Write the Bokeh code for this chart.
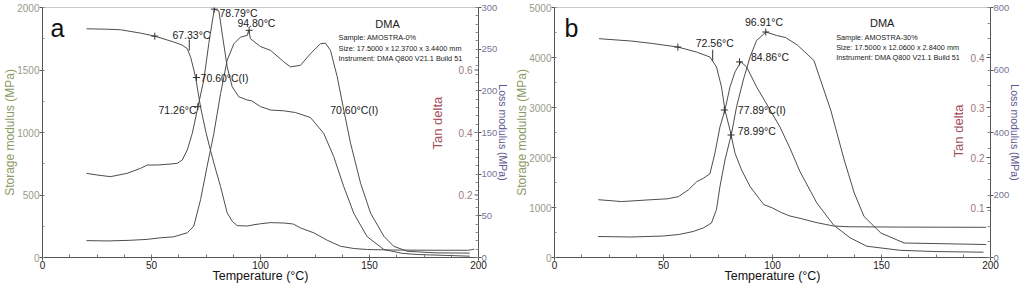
import math
from bokeh.plotting import figure
from bokeh.models import Range1d, LinearAxis, Label, SingleIntervalTicker
from bokeh.layouts import row
from bokeh.embed import file_html
from bokeh.resources import INLINE

FONT = "Liberation Sans"
CURVE = "#4d4d4d"

# ---------------- panel a data (AMOSTRA-0%) ----------------
a_T_storage = [20.2, 30, 35.8, 45, 51.5, 60.2, 64, 66.4, 68, 70.2, 72.5, 75, 77, 79.5, 81.7, 84.7, 87,
               89.3, 93.9, 97, 100, 104.6, 110.7, 115, 118.3, 124.5, 130.6, 136.7, 142.8, 149, 160, 180,
               195, 197, 198]
a_storage = [1830, 1826, 1822, 1795, 1771, 1724, 1700, 1671, 1600, 1445, 1203, 1000, 860, 700, 566, 358,
             290, 255, 252, 262, 270, 279, 276, 268, 237, 197, 138, 90, 72, 64, 60, 58, 58, 62, 68]

a_T_loss = [20.2, 25, 31.2, 38.8, 45, 48, 52.6, 58, 61.8, 64.1, 66.4, 68.7, 71, 74, 76.3, 78.8, 80.9,
            82.4, 84.7, 87, 90, 93.9, 96, 100, 104.6, 110.7, 116, 122.9, 129, 133.6, 138.2, 142.8,
            148.9, 156.6, 165, 171.9, 185, 196]
a_loss = [101, 99, 97, 101, 107, 111, 111, 112, 113, 117, 129, 149, 177, 213, 257, 298, 296, 269, 229,
          205, 193, 189, 188, 181, 177, 176, 174, 168, 149, 121, 85, 53, 25, 9.6, 5, 3.6, 2.5, 1.6]

a_T_tan = [20.2, 30, 40, 48, 54, 60, 66.4, 69.4, 72.5, 75.5, 78.6, 81.7, 84.7, 87.8, 90.8, 93.9, 94.6,
           95.4, 100, 104.6, 110.7, 113.8, 118.3, 122.9, 127.5, 129.8, 132.1, 135.2, 138.2, 141.3,
           145.9, 150.5, 156.6, 161.1, 167.3, 180, 196]
a_tan = [0.054, 0.053, 0.055, 0.058, 0.063, 0.066, 0.079, 0.1, 0.185, 0.291, 0.397, 0.525, 0.631, 0.684,
         0.705, 0.711, 0.727, 0.70, 0.675, 0.663, 0.626, 0.61, 0.615, 0.652, 0.684, 0.686, 0.663, 0.578,
         0.472, 0.366, 0.238, 0.142, 0.068, 0.036, 0.02, 0.015, 0.014]

a_mark_storage_T = [51.5, 70.6]
a_mark_storage = [1771, 1440]
a_onset_T = [67.33]
a_onset_storage = [1700]
a_mark_loss_T = [71.26, 78.79]
a_mark_loss = [181, 298]
a_mark_tan_T = [94.8]
a_mark_tan = [0.727]

a_info = ["Sample: AMOSTRA-0%", "Size: 17.5000 x 12.3700 x 3.4400 mm", "Instrument: DMA Q800 V21.1 Build 51"]

# ---------------- panel b data (AMOSTRA-30%) ----------------
b_T_storage = [20.4, 35.4, 45, 56.6, 65.1, 71.3, 74.3, 76.6, 78.2, 80.5, 82.8, 85.8, 89.7, 94.3, 96,
               100, 104, 108, 113, 120, 128, 135, 160, 198]
b_storage = [4376, 4329, 4280, 4209, 4110, 4010, 3811, 3412, 2948, 2550, 2086, 1753, 1420, 1155, 1060,
             990, 900, 830, 780, 700, 630, 615, 608, 604]

b_T_loss = [20.1, 30.8, 44.6, 52, 56.9, 61.5, 65.3, 68.4, 71.3, 73.6, 75.9, 78.2, 80.5, 82.8, 85.5, 88.1,
            92.7, 98.9, 103.4, 108, 112.6, 120.3, 128, 135.6, 143.3, 158.6, 175, 196.8]
b_loss = [185, 179, 185, 188, 195, 217, 243, 254, 268, 334, 418, 472, 546, 594, 626, 610, 546, 472, 418,
          350, 275, 175, 104, 63, 36, 23, 19, 17]

b_T_tan = [20, 35, 50, 57, 63.6, 68.2, 72, 74.3, 75.9, 78.2, 81.2, 83.5, 86.6, 89.7, 92.7, 97, 101.9,
           106, 111.4, 119, 126.7, 132.9, 137.5, 142, 149.7, 160.4, 198]
b_tan = [0.042, 0.041, 0.043, 0.046, 0.052, 0.059, 0.069, 0.096, 0.142, 0.195, 0.248, 0.301, 0.355,
         0.401, 0.434, 0.451, 0.444, 0.44, 0.425, 0.394, 0.295, 0.195, 0.129, 0.082, 0.049, 0.029, 0.026]

b_mark_storage_T = [56.6, 77.89]
b_mark_storage = [4209, 2950]
b_onset_T = [72.56]
b_onset_storage = [4044]
b_mark_loss_T = [84.86]
b_mark_loss = [626]
b_mark_tan_T = [81.0, 96.91]
b_mark_tan = [0.245, 0.451]

b_info = ["Sample: AMOSTRA-30%", "Size: 17.5000 x 12.0600 x 2.8400 mm", "Instrument: DMA Q800 V21.1 Build 51"]

x_ticks_interval = 50


def build(width, letter, letter_pos,
          smax, s_int, s_minor, lmax, l_int, l_minor, tmax, tan_ticks,
          Ts, S, Tl, L, Tt, Tn,
          msT, ms, oT, oS, mlT, ml, mtT, mt,
          peak_labels, dma_pos, info_pos, info, tan_title_y, tan_title_off):
    p = figure(width=width, height=285, x_range=Range1d(0, 200), y_range=Range1d(0, smax),
               output_backend="svg", toolbar_location=None,
               min_border_left=20, min_border_right=20,
               min_border_top=7, min_border_bottom=14)
    p.extra_y_ranges = {"loss": Range1d(0, lmax), "tan": Range1d(0, tmax)}
    p.grid.visible = False
    p.outline_line_color = "#c8c8c8"
    p.outline_line_width = 1

    # bottom axis
    xa = p.xaxis[0]
    xa.ticker = SingleIntervalTicker(interval=x_ticks_interval, num_minor_ticks=4)
    xa.axis_label = "Temperature (°C)"
    xa.axis_label_text_font = FONT
    xa.axis_label_text_font_size = "12.5px"
    xa.axis_label_text_font_style = "normal"
    xa.axis_label_text_color = "#111111"
    xa.axis_label_standoff = -3
    xa.major_label_text_font = FONT
    xa.major_label_text_font_size = "10px"
    xa.major_label_text_color = "#222222"
    xa.major_label_standoff = 0
    xa.major_tick_out = 3
    xa.major_tick_in = 0
    xa.minor_tick_out = 0
    xa.minor_tick_in = 3
    xa.axis_line_color = "#555555"
    xa.major_tick_line_color = "#555555"
    xa.minor_tick_line_color = "#777777"

    # left axis (storage)
    ya = p.yaxis[0]
    ya.ticker = SingleIntervalTicker(interval=s_int, num_minor_ticks=s_minor)
    ya.axis_label = "Storage modulus (MPa)"
    ya.axis_label_text_font = FONT
    ya.axis_label_text_font_size = "12px"
    ya.axis_label_text_font_style = "normal"
    ya.axis_label_text_color = "#8a9a63"
    ya.axis_label_standoff = -3
    ya.major_label_text_font = FONT
    ya.major_label_text_font_size = "10px"
    ya.major_label_text_color = "#9a9a8a"
    ya.major_label_standoff = 0
    ya.major_tick_out = 3
    ya.major_tick_in = 0
    ya.minor_tick_out = 0
    ya.minor_tick_in = 2
    ya.axis_line_color = "#555555"
    ya.major_tick_line_color = "#555555"
    ya.minor_tick_line_color = "#888888"

    # right axis (loss modulus)
    la = LinearAxis(y_range_name="loss", axis_label="Loss modulus (MPa)",
                    ticker=SingleIntervalTicker(interval=l_int, num_minor_ticks=l_minor))
    la.axis_label_text_font = FONT
    la.axis_label_text_font_size = "10.5px"
    la.axis_label_text_font_style = "normal"
    la.axis_label_text_color = "#5e5890"
    la.axis_label_standoff = -3
    la.major_label_text_font = FONT
    la.major_label_text_font_size = "9.5px"
    la.major_label_text_color = "#76769a"
    la.major_label_standoff = 0
    la.major_tick_out = 3
    la.major_tick_in = 0
    la.minor_tick_out = 0
    la.minor_tick_in = 3
    la.axis_line_color = "#555555"
    la.major_tick_line_color = "#555555"
    la.minor_tick_line_color = "#888888"
    p.add_layout(la, "right")

    # curves
    p.line(Ts, S, line_color=CURVE, line_width=1)
    p.line(Tl, L, line_color=CURVE, line_width=1, y_range_name="loss")
    p.line(Tt, Tn, line_color=CURVE, line_width=1, y_range_name="tan")

    # analysis markers
    p.scatter(msT, ms, marker="cross", size=7, line_color="#333333")
    p.scatter(oT, oS, marker="dash", angle=math.pi / 2, size=11, line_color="#333333")
    p.scatter(mlT, ml, marker="cross", size=7, line_color="#333333", y_range_name="loss")
    p.scatter(mtT, mt, marker="cross", size=7, line_color="#333333", y_range_name="tan")

    # tan delta inner scale (labels inside the frame next to the right axis)
    tick_x0 = [198.2] * len(tan_ticks)
    tick_x1 = [200] * len(tan_ticks)
    p.segment(tick_x0, tan_ticks, tick_x1, tan_ticks, line_color="#555555", y_range_name="tan")
    for t in tan_ticks:
        p.add_layout(Label(x=200, y=t, y_range_name="tan", text=f"{t:g}", x_offset=-6,
                           text_align="right", text_baseline="middle", text_font=FONT,
                           text_font_size="10px", text_color="#a07878"))
    p.add_layout(Label(x=200, y=tan_title_y, y_range_name="tan", text="Tan delta", x_offset=-tan_title_off,
                       angle=math.pi / 2, text_align="center", text_baseline="middle",
                       text_font=FONT, text_font_size="13px", text_color="#a2505c"))

    # panel letter
    p.add_layout(Label(x=letter_pos[0], y=letter_pos[1], text=letter, text_font=FONT,
                       text_font_size="25px", text_color="#111111", text_baseline="alphabetic"))

    # peak / transition labels
    for (tx, ty, txt) in peak_labels:
        p.add_layout(Label(x=tx, y=ty, text=txt, text_font=FONT, text_font_size="10.5px",
                           text_color="#1a1a1a", text_align="left", text_baseline="middle"))

    # header block
    p.add_layout(Label(x=dma_pos[0], y=dma_pos[1], text="DMA", text_font=FONT, text_font_size="11px",
                       text_color="#1a1a1a", text_align="center", text_baseline="middle"))
    for i, line in enumerate(info):
        p.add_layout(Label(x=info_pos[0], y=info_pos[1][i], text=line, text_font=FONT,
                           text_font_size="7.3px", text_color="#1a1a1a", text_align="left",
                           text_baseline="middle"))
    return p


pa = build(512, "a", (3.7, 1833),
           2000, 500, 2, 300, 50, 5, 0.8, [0.2, 0.4, 0.6],
           a_T_storage, a_storage, a_T_loss, a_loss, a_T_tan, a_tan,
           a_mark_storage_T, a_mark_storage, a_onset_T, a_onset_storage,
           a_mark_loss_T, a_mark_loss, a_mark_tan_T, a_mark_tan,
           [(59.6, 1777, "67.33°C"), (81.2, 1960, "78.79°C"), (89.4, 1880, "94.80°C"),
            (72.5, 1434, "70.60°C(I)"), (53.2, 1179, "71.26°C"), (132.0, 1179, "70.60°C(I)")],
           (158.3, 1872), (135.8, [1761, 1673, 1594]), a_info, 0.43, 41)

pb = build(512, "b", (4.6, 4582),
           5000, 1000, 2, 800, 200, 4, 0.5, [0.1, 0.2, 0.3, 0.4],
           b_T_storage, b_storage, b_T_loss, b_loss, b_T_tan, b_tan,
           b_mark_storage_T, b_mark_storage, b_onset_T, b_onset_storage,
           b_mark_loss_T, b_mark_loss, b_mark_tan_T, b_mark_tan,
           [(64.8, 4283, "72.56°C"), (87.4, 4701, "96.91°C"), (90.1, 4004, "84.86°C"),
            (84.1, 2948, "77.89°C(I)"), (84.1, 2530, "78.99°C")],
           (150.3, 4681), (129.2, [4402, 4203, 4004]), b_info, 0.253, 32)

layout = row(pa, pb)
open("out.html", "w").write(file_html(layout, INLINE))
